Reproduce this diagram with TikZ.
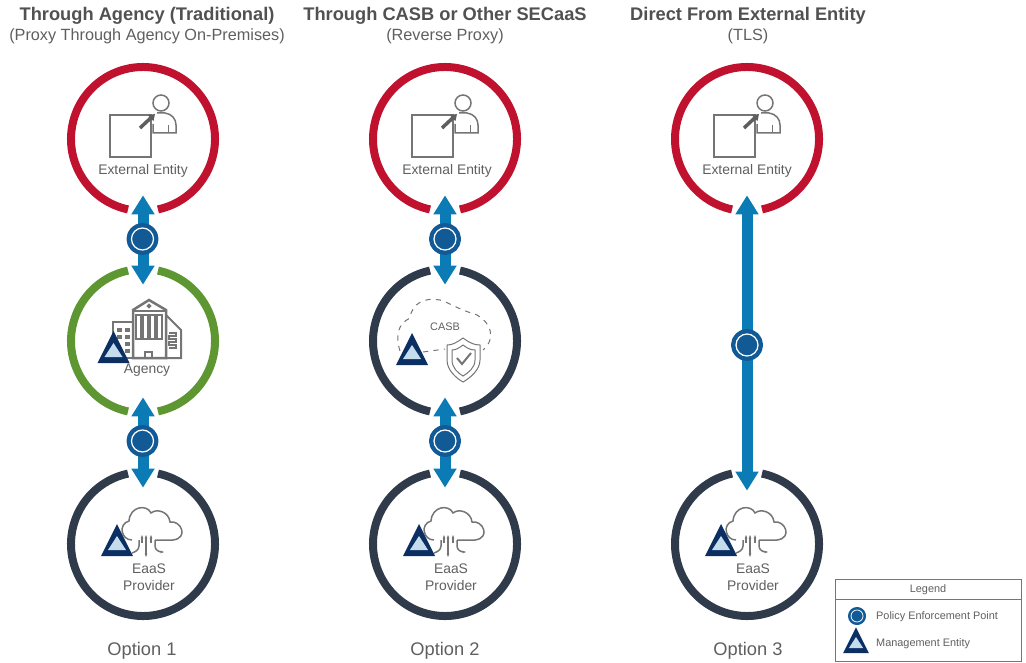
\documentclass[tikz,border=0pt]{standalone}
\usepackage{fontspec}
\setmainfont{Liberation Sans}
\usepackage{xcolor}
\usetikzlibrary{arrows.meta}
\definecolor{ringred}{HTML}{C0112F}
\definecolor{ringgreen}{HTML}{5E9732}
\definecolor{ringdark}{HTML}{2F3A4A}
\definecolor{pipeblue}{HTML}{0A7BB5}
\definecolor{pepblue}{HTML}{125A96}
\definecolor{navy}{HTML}{0B2F63}
\definecolor{paleblue}{HTML}{C5DCEC}
\definecolor{icongray}{HTML}{757575}
\definecolor{textgray}{HTML}{5F5F5F}
\tikzset{
  ring/.style={line width=.16cm},
  site/.style={circle,minimum size=2.24cm,inner sep=0pt},
  pipe/.style={draw=pipeblue,line width=.22cm,{Triangle[length=.38cm,width=.44cm]}-{Triangle[length=.38cm,width=.44cm]}},
  pep/.style={circle,minimum size=.44cm,inner sep=0pt,fill=pepblue,draw=white,line width=.025cm,preaction={draw=pepblue,line width=.2cm,line join=round}},
  title/.style={font=\bfseries\fontsize{10.4}{12}\selectfont,text=textgray!85!black},
  subtitle/.style={font=\fontsize{9.25}{12}\selectfont,text=textgray},
  option/.style={font=\fontsize{10.4}{12}\selectfont,text=textgray},
  tag/.style={font=\fontsize{7.9}{9.6}\selectfont,text=textgray,align=center},
  small/.style={font=\fontsize{6.2}{8}\selectfont,text=textgray},
  icon/.style={draw=icongray,line width=.03cm},
  pics/mgmt/.style={code={
    \fill[navy] (-16,0) -- (0,-32) -- (16,0) -- cycle;
    \fill[paleblue] (-9,-6) -- (0,-20) -- (9,-6) -- cycle;
  }},
  pics/person/.style={code={
    \draw[icon] (-33,-24) rectangle (8,18);
    \draw[icon] (18,-36) circle (8);
    \draw[icon] (14,-26) -- (22,-26) .. controls (29,-25) and (33,-20) .. (33,-14) -- (33,-6) -- (10,-6) -- (10,-15);
    \draw[icon] (25.5,-14) -- (25.5,-6);
    \draw[draw=icongray!80!black,line width=.07cm,-{Triangle[length=.12cm,width=.16cm]}] (-3,-11) -- (12,-25);
  }},
  pics/eaas/.style={code={
    \draw[icon] (-11,-4) .. controls (-22,-4) and (-25,-20) .. (-14,-23) .. controls (-13,-38) and (4,-40) .. (8,-31) .. controls (14,-36) and (26,-32) .. (27,-22) .. controls (38,-24) and (46,-6) .. (30,-4) -- (12,-4);
    \draw[icon,-{Stealth[length=.07cm]}] (-1,-1) -- (-1,-9);
    \draw[icon,{Stealth[length=.07cm]}-{Stealth[length=.07cm]}] (3,-9) -- (3,13);
    \draw[icon,-{Stealth[length=.07cm]}] (8,-1) -- (8,-9);
    \draw[icon] (-4,-4) -- (-4,2) .. controls (-4,6) and (-8,8) .. (-11,9);
    \draw[icon,-{Stealth[length=.07cm]}] (12,-4) -- (12,2) .. controls (12,6) and (16,8) .. (21,8);
  }},
}
\begin{document}
\begin{tikzpicture}[x=.02cm,y=-.02cm]
\useasboundingbox (0,0) rectangle (1026,662);
% headings
\node[title] (headA) at (147,16) {Through Agency (Traditional)};
\node[subtitle] (subA) at (147,36) {(Proxy Through Agency On-Premises)};
\node[title] (headB) at (445,16) {Through CASB or Other SECaaS};
\node[subtitle] (subB) at (445,36) {(Reverse Proxy)};
\node[title] (headC) at (748,16) {Direct From External Entity};
\node[subtitle] (subC) at (748,36) {(TLS)};
\node[option] (optA) at (142,651) {Option 1};
\node[option] (optB) at (445,651) {Option 2};
\node[option] (optC) at (748,651) {Option 3};
% sites
\node[site] (extA) at (143,139) {};
\node[site] (agency) at (143,341) {};
\node[site] (provA) at (143,544) {};
\node[site] (extB) at (445,139) {};
\node[site] (casb) at (445,341) {};
\node[site] (provB) at (445,544) {};
\node[site] (extC) at (747,139) {};
\node[site] (provC) at (747,544) {};
% rings
\draw[ring,ringred] (extA.center) ++(102:72) arc (102:438:72);
\draw[ring,ringgreen] (agency.center) ++(-78:72) arc (-78:78:72);
\draw[ring,ringgreen] (agency.center) ++(102:72) arc (102:258:72);
\draw[ring,ringdark] (provA.center) ++(282:72) arc (282:618:72);
\draw[ring,ringred] (extB.center) ++(102:72) arc (102:438:72);
\draw[ring,ringdark] (casb.center) ++(-78:72) arc (-78:78:72);
\draw[ring,ringdark] (casb.center) ++(102:72) arc (102:258:72);
\draw[ring,ringdark] (provB.center) ++(282:72) arc (282:618:72);
\draw[ring,ringred] (extC.center) ++(102:72) arc (102:438:72);
\draw[ring,ringdark] (provC.center) ++(282:72) arc (282:618:72);
% connectors
\draw[pipe] (extA) -- (agency);
\draw[pipe] (agency) -- (provA);
\draw[pipe] (extB) -- (casb);
\draw[pipe] (casb) -- (provB);
\draw[pipe,shorten >=-.06cm] (extC) -- (provC);
\node[pep] (pepA) at (142.5,239) {};
\node[pep] (pepB) at (142.5,441) {};
\node[pep] (pepC) at (445,239) {};
\node[pep] (pepD) at (445,441) {};
\node[pep] (pepE) at (747,345) {};
% external entity
\pic at (extA.center) {person};
\pic at (extB.center) {person};
\pic at (extC.center) {person};
\node[tag] (tagA) at (143,170.5) {External Entity};
\node[tag] (tagB) at (447,170.5) {External Entity};
\node[tag] (tagC) at (747,170.5) {External Entity};
% agency building
\draw[icon,line width=.05cm] (133,358) -- (133,310) -- (149,300) -- (166,310) -- (166,358) -- cycle;
\draw[icon,line width=.05cm] (133,311) -- (166,311);
\draw[icon] (149,306) circle (1.5);
\draw[icon,line width=.04cm] (136,315) rectangle (141,339);
\draw[icon,line width=.04cm] (143,315) rectangle (148,339);
\draw[icon,line width=.04cm] (150,315) rectangle (155,339);
\draw[icon,line width=.04cm] (157,315) rectangle (162,339);
\draw[icon,line width=.04cm] (145,358) -- (145,352) -- (152,352) -- (152,358);
\draw[icon,line width=.04cm] (133,322) -- (113,322) -- (113,358) -- (133,358);
\fill[icongray] (117,328) rectangle (122,332);
\fill[icongray] (125,328) rectangle (130,332);
\fill[icongray] (117,335) rectangle (122,339);
\fill[icongray] (125,335) rectangle (130,339);
\fill[icongray] (125,342) rectangle (130,346);
\fill[icongray] (125,349) rectangle (130,353);
\draw[icon,line width=.04cm] (166,315) -- (181,330) -- (181,358) -- (166,358);
\draw[icon] (169,333) -- (176,333) -- (176,336) -- (169,336) -- (169,339) -- (176,339) -- (176,342) -- (169,342) -- (169,345) -- (176,345) -- (176,348) -- (169,348);
\pic at (113.5,363) {mgmt};
\node[tag] (tagD) at (147,370.5) {Agency};
% casb cloud
\draw[icon,line width=.02cm,dashed] (400,351) .. controls (395,335) and (398,324) .. (410,318) .. controls (412,303) and (425,297) .. (440,300) .. controls (450,303) and (455,308) .. (477,315) .. controls (490,322) and (497,338) .. (483,350);
\draw[icon,line width=.02cm,dashed] (423,352) -- (445,349);
\draw[icon,line width=.02cm] (463,338) .. controls (456,343) and (452,345) .. (447,345) -- (447,360) .. controls (447,370) and (456,378) .. (463,382) .. controls (470,378) and (480,370) .. (480,360) -- (480,345) .. controls (474,345) and (470,343) .. (463,338);
\draw[icon,line width=.02cm] (463,345) .. controls (459,348) and (456,350) .. (452,350) -- (452,360) .. controls (452,368) and (458,373) .. (463,376) .. controls (468,373) and (475,368) .. (475,360) -- (475,350) .. controls (470,350) and (467,348) .. (463,345);
\draw[icon,line width=.04cm] (457,358) -- (462,364) -- (471,353);
\pic at (412,365) {mgmt};
\node[small] (tagE) at (445,327) {CASB};
% eaas provider
\pic at (provA.center) {eaas};
\pic at (provB.center) {eaas};
\pic at (provC.center) {eaas};
\pic at (117,556) {mgmt};
\pic at (419,556) {mgmt};
\pic at (721,556) {mgmt};
\node[tag] (tagF) at (149,577) {EaaS\\Provider};
\node[tag] (tagG) at (451,577) {EaaS\\Provider};
\node[tag] (tagH) at (753,577) {EaaS\\Provider};
% legend
\draw[draw=icongray,line width=.02cm] (835,579) rectangle (1021,661);
\draw[draw=icongray,line width=.02cm] (835,599) -- (1021,599);
\node[small] (legendhead) at (928,590) {Legend};
\node[circle,minimum size=.24cm,inner sep=0pt,fill=pepblue,draw=white,line width=.015cm,preaction={draw=pepblue,line width=.12cm,line join=round}] (legendpep) at (857,616) {};
\node[small,anchor=west] (legendA) at (870,617) {Policy Enforcement Point};
\pic[scale=.8] at (856,653) {mgmt};
\node[small,anchor=west] (legendB) at (870,644) {Management Entity};
\end{tikzpicture}
\end{document}
